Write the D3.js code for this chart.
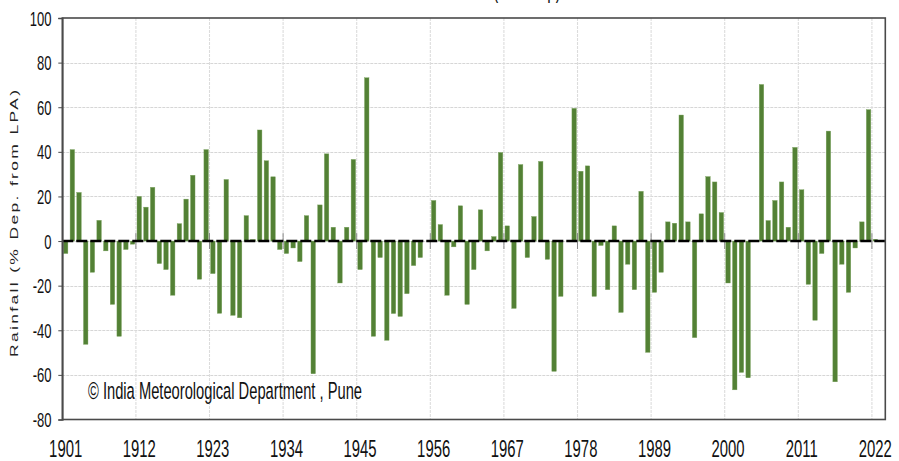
<!DOCTYPE html>
<html>
<head>
<meta charset="utf-8">
<script src="https://cdn.jsdelivr.net/npm/d3@7"></script>
<style>
  html, body { margin: 0; padding: 0; background: #fff; }
  svg { display: block; }
  text { font-family: "Liberation Sans", Arial, sans-serif; }
</style>
</head>
<body>
<div id="chart"></div>
<script>
// ---- data ----
const years = d3.range(1901, 2023);
const values = [
  -5.6, 41, 21.8, -46.3, -14, 9.3, -4.4, -28.4, -42.7, -3.8,      // 1901-1910
  -1.4, 20, 15.2, 24.1, -10.1, -12.8, -24.3, 7.8, 18.8, 29.5,     // 1911-1920
  -17.1, 41, -14.6, -32.4, 27.6, -33.3, -34.4, 11.4, 0.7, 49.8,   // 1921-1930
  36, 28.8, -3.8, -5.6, -3.1, -9.2, 11.4, -59.5, 16.2, 39.1,      // 1931-1940
  6.2, -18.8, 6.2, 36.6, -12.8, 73.2, -42.7, -7.4, -44.5, -32.5,  // 1941-1950
  -33.8, -23.6, -11, -7.4, 0, 18.2, 7.4, -24.3, -2.6, 15.8,       // 1951-1960
  -28.4, -12.8, 14, -4.4, 2, 39.7, 6.8, -30.2, 34.3, -7.4,        // 1961-1970
  11, 35.7, -8.2, -58.4, -24.8, 0, 59.5, 31.3, 33.7, -24.8,       // 1971-1980
  -2, -21.8, 6.8, -32, -10.4, -21.8, 22.3, -49.9, -23, -14,       // 1981-1990
  8.6, 8, 56.5, 8.6, -43.3, 12.2, 28.9, 26.5, 12.8, -18.8,        // 1991-2000
  -66.7, -58.9, -61.3, 0, 70.2, 9.2, 18.2, 26.5, 6.2, 42,         // 2001-2010
  23, -19.4, -35.5, -5.6, 49.3, -63.1, -10.4, -23, -3.1, 8.6,     // 2011-2020
  58.9, 0.8                                                       // 2021-2022
];
const xTickYears = [1901, 1912, 1923, 1934, 1945, 1956, 1967, 1978, 1989, 2000, 2011, 2022];
const yTicks = [-80, -60, -40, -20, 0, 20, 40, 60, 80, 100];
const yLabel = "Rainfall (% Dep. from LPA)";
const credit = "\u00A9 India Meteorological Department , Pune";
const titleText = "(Jun-Sep)";

// ---- layout ----
const W = 899, H = 461;
const mLeft = 62.3, mRight = 885.3, mTop = 18, mBottom = 419.5;
const SX = 0.62; // horizontal squeeze of the text

const svg = d3.select("#chart").append("svg").attr("width", W).attr("height", H);

const domainYears = d3.range(1901, 2024); // one extra empty slot at the end
const x = d3.scaleBand().domain(domainYears).range([mLeft, mRight])
  .paddingInner(0.33).paddingOuter(0.165);
const y = d3.scaleLinear().domain([-80, 100]).range([mBottom, mTop]);
const edge = yr => x(yr) - (x.step() - x.bandwidth()) / 2;

// gridlines
svg.append("g").selectAll("line").data(yTicks.filter(t => t !== -80 && t !== 100)).join("line")
  .attr("x1", mLeft).attr("x2", mRight)
  .attr("y1", d => Math.round(y(d)) + 0.5).attr("y2", d => Math.round(y(d)) + 0.5)
  .attr("stroke", "#d6d6d6").attr("stroke-width", 1.2).attr("stroke-dasharray", "3,1");
svg.append("g").selectAll("line").data(xTickYears.slice(1)).join("line")
  .attr("x1", d => edge(d)).attr("x2", d => edge(d))
  .attr("y1", mTop).attr("y2", mBottom)
  .attr("stroke", "#dcdcdc").attr("stroke-width", 1.1).attr("stroke-dasharray", "3,1");

// small ticks at the zero line
svg.append("g").selectAll("line").data(xTickYears.slice(1)).join("line")
  .attr("x1", d => edge(d)).attr("x2", d => edge(d))
  .attr("y1", y(0) - 8).attr("y2", y(0) + 8)
  .attr("stroke", "#8a8a8a").attr("stroke-width", 1);

// bars
const data = years.map((yr, i) => ({ yr, v: values[i] }));
svg.append("g").selectAll("rect").data(data).join("rect")
  .attr("x", d => x(d.yr))
  .attr("width", x.bandwidth())
  .attr("y", d => y(Math.max(0, d.v)))
  .attr("height", d => Math.abs(y(d.v) - y(0)))
  .attr("fill", "#538135")
  .attr("stroke", "#7aa35e").attr("stroke-width", 0.4);

// zero dashed line
svg.append("line")
  .attr("x1", mLeft).attr("x2", mRight)
  .attr("y1", y(0)).attr("y2", y(0))
  .attr("stroke", "#000").attr("stroke-width", 2.6).attr("stroke-dasharray", "11,3");

// frame
svg.append("rect").attr("x", mLeft).attr("y", mTop)
  .attr("width", mRight - mLeft).attr("height", mBottom - mTop)
  .attr("fill", "none").attr("stroke", "#4a4a4a").attr("stroke-width", 1.6);

// y axis
const yAxis = d3.axisLeft(y).tickValues(yTicks).tickSize(4).tickFormat("");
const ya = svg.append("g").attr("transform", `translate(${mLeft},0)`).call(yAxis);
ya.select(".domain").attr("stroke", "#4a4a4a").attr("stroke-width", 1.6);
ya.selectAll(".tick line").attr("stroke", "#4a4a4a");

svg.append("g").selectAll("text").data(yTicks).join("text")
  .attr("transform", d => `translate(51.5,${y(d) + 7.5}) scale(${SX},1)`)
  .attr("text-anchor", "end").attr("font-size", 21).attr("fill", "#111")
  .text(d => d);

// x labels
svg.append("g").selectAll("text").data(xTickYears).join("text")
  .attr("transform", d => `translate(${x(d) + x.bandwidth() / 2},457) scale(${SX},1)`)
  .attr("text-anchor", "middle").attr("font-size", 24).attr("fill", "#111")
  .text(d => d);

// y axis title
svg.append("text")
  .attr("transform", `translate(18.3,223.5) scale(${SX},1) rotate(-90)`)
  .attr("text-anchor", "middle").attr("font-size", 17.5).attr("fill", "#222")
  .attr("textLength", 267).attr("lengthAdjust", "spacing")
  .text(yLabel);

// credit
svg.append("text")
  .attr("x", 88).attr("y", 399)
  .attr("font-size", 24.5).attr("fill", "#111")
  .attr("textLength", 274).attr("lengthAdjust", "spacingAndGlyphs")
  .text(credit);

// clipped title at the very top
svg.append("text")
  .attr("x", 493).attr("y", -2.5)
  .attr("font-size", 26).attr("fill", "#111")
  .attr("textLength", 68).attr("lengthAdjust", "spacingAndGlyphs")
  .text(titleText);
</script>
</body>
</html>
